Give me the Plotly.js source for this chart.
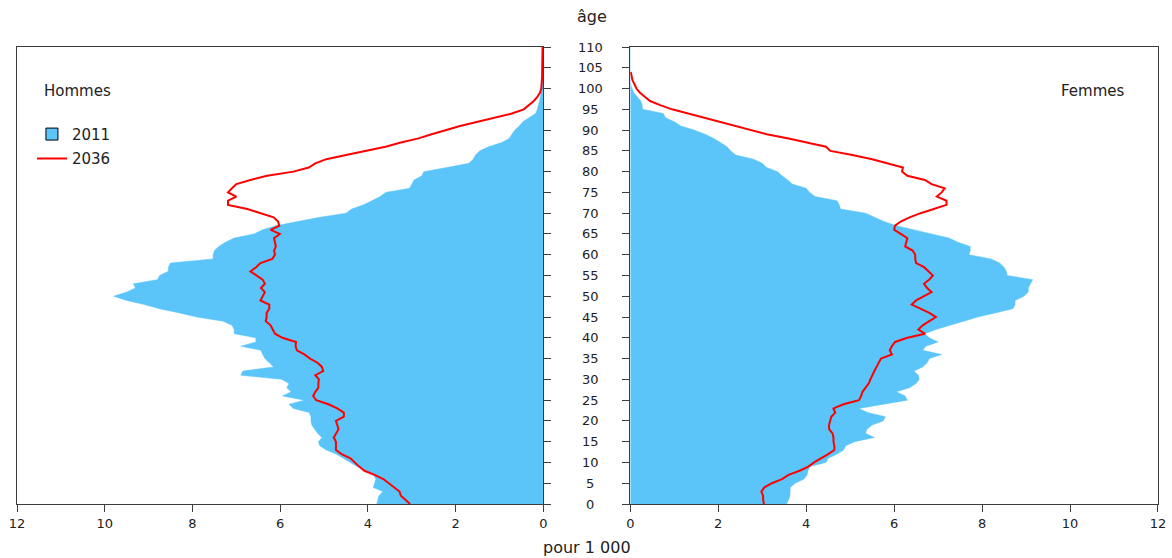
<!DOCTYPE html>
<html><head><meta charset="utf-8">
<script src="https://cdn.plot.ly/plotly-3.0.1.min.js"></script>
<style>html,body{margin:0;padding:0;background:#fff}#chart{width:1172px;height:558px}</style>
</head><body><div id="chart"></div>
<script>
// Ages 0..110 (single years)
const ages = [];
for (let a = 0; a <= 110; a++) ages.push(a);

// pour 1 000 — Hommes 2011
const hommes2011 = [3.80,3.78,3.75,3.66,3.88,3.85,3.82,3.87,4.03,4.25,
 4.40,4.55,4.72,4.95,5.10,5.13,5.05,5.15,5.22,5.28,
 5.30,5.30,5.34,5.70,5.80,5.45,5.95,5.75,5.85,5.80,
 5.97,6.90,6.85,6.15,6.25,6.35,6.40,6.44,6.90,6.55,
 6.56,7.05,7.05,7.10,7.30,7.90,8.30,8.75,9.10,9.50,
 9.80,9.50,9.30,9.35,8.80,8.75,8.55,8.55,8.50,7.53,
 7.53,7.50,7.40,7.25,7.05,6.60,6.40,6.10,5.60,5.10,
 4.50,4.37,4.10,3.90,3.72,3.60,3.05,3.00,2.95,2.77,
 2.73,2.20,1.70,1.60,1.55,1.45,1.25,0.95,0.78,0.72,
 0.65,0.55,0.47,0.33,0.18,0.14,0.11,0.09,0.07,0.06,
 0.05,0.03,0.02,0.01,0.01,0,0,0,0,0,0];

// Hommes 2036
const hommes2036 = [3.04,3.15,3.25,3.28,3.40,3.52,3.65,3.85,4.08,4.20,
 4.30,4.40,4.60,4.73,4.73,4.73,4.78,4.72,4.67,4.70,
 4.73,4.55,4.55,4.70,4.90,5.18,5.25,5.20,5.13,5.13,
 5.12,5.20,5.02,5.05,5.15,5.32,5.45,5.62,5.65,5.64,
 5.95,6.12,6.18,6.22,6.33,6.31,6.31,6.25,6.25,6.45,
 6.40,6.35,6.44,6.35,6.40,6.55,6.68,6.55,6.45,6.18,
 6.12,6.14,6.10,6.12,6.14,6.01,6.22,6.02,6.05,6.15,
 6.45,6.75,7.19,7.19,7.00,7.19,7.10,7.00,6.68,6.30,
 5.70,5.35,5.20,4.95,4.50,4.05,3.60,3.25,2.85,2.55,
 2.25,1.90,1.50,1.10,0.72,0.45,0.33,0.22,0.14,0.08,
 0.05,0.04,0.03,0.03,0.03,0.03,0.02,0.02,0.02,0.02,0.02];

// Femmes 2011
const femmes2011 = [3.55,3.60,3.63,3.64,3.64,3.75,3.95,4.02,4.04,4.08,
 4.45,4.50,4.70,4.85,4.90,5.10,5.55,5.35,5.38,5.50,
 5.75,5.80,5.40,5.20,5.80,6.30,6.25,6.05,6.35,6.50,
 6.57,6.55,6.45,6.65,6.75,6.80,7.08,6.65,6.72,7.00,
 6.80,6.70,6.95,7.25,7.60,7.90,8.30,8.70,8.75,8.75,
 8.95,9.05,9.05,9.10,9.15,8.57,8.55,8.50,8.40,8.20,
 7.70,7.73,7.73,7.45,7.25,6.85,6.45,6.05,5.77,5.55,
 5.35,4.78,4.75,4.70,4.20,4.08,4.00,3.68,3.58,3.45,
 3.35,3.10,3.00,2.80,2.40,2.28,2.20,2.05,1.90,1.70,
 1.45,1.15,1.00,0.80,0.75,0.28,0.27,0.24,0.15,0.08,
 0.04,0.01,0,0,0,0,0,0,0,0,0];

// Femmes 2036
const femmes2036 = [3.04,3.02,3.02,2.98,3.05,3.22,3.45,3.60,3.85,4.05,
 4.18,4.35,4.50,4.64,4.64,4.62,4.62,4.60,4.52,4.52,
 4.55,4.57,4.66,4.62,4.85,5.20,5.25,5.28,5.35,5.42,
 5.46,5.50,5.55,5.60,5.65,5.70,5.95,5.90,5.95,6.02,
 6.30,6.70,6.55,6.65,6.80,6.95,6.80,6.60,6.40,6.50,
 6.68,6.85,6.75,6.68,6.80,6.88,6.78,6.68,6.50,6.48,
 6.48,6.42,6.25,6.28,6.30,6.15,6.00,6.02,6.15,6.35,
 6.60,6.90,7.19,7.19,6.97,7.08,7.15,6.85,6.70,6.30,
 6.18,6.20,5.85,5.50,5.05,4.55,4.45,4.05,3.60,3.10,
 2.75,2.40,2.00,1.65,1.30,0.95,0.68,0.45,0.33,0.22,
 0.14,0.09,0.05,0.03,0.01,null,null,null,null,null,null];

const xTicks = [0,2,4,6,8,10,12];
const ageTicks = [0,5,10,15,20,25,30,35,40,45,50,55,60,65,70,75,80,85,90,95,100,105,110];
const seriesNames = ['2011','2036'];
const panelNames = ['Hommes','Femmes'];

const BLUE = '#5bc5f9';
const RED = '#ff0000';
const FRAME = '#3c3c3c';
const FONT = 'DejaVu Sans, Verdana, sans-serif';
const TXT = '#222222';

function areaTrace(vals, xa, ya) {
  return {type:'scatter', mode:'lines', x:vals, y:ages, xaxis:xa, yaxis:ya,
    name:seriesNames[0], showlegend:false, legendgroup:'a', fill:'tozerox', fillcolor:BLUE,
    line:{color:BLUE, width:0.5, shape:'linear'}, hoverinfo:'skip'};
}
function lineTrace(vals, xa, ya, show) {
  return {type:'scatter', mode:'lines', x:vals, y:ages, xaxis:xa, yaxis:ya,
    name:seriesNames[1], showlegend:show, legendgroup:'b',
    line:{color:RED, width:2, shape:'linear'}, hoverinfo:'skip'};
}

const data = [
  // legend key for the 2011 series (draws no mark of its own)
  {type:'bar', orientation:'h', x:[null], y:[null], xaxis:'x', yaxis:'y', name:seriesNames[0],
   showlegend:true, legendgroup:'a', marker:{color:BLUE, line:{color:'#000000', width:1}}, hoverinfo:'skip'},
  areaTrace(hommes2011,'x','y'),
  lineTrace(hommes2036,'x','y',true),
  areaTrace(femmes2011,'x2','y2'),
  lineTrace(femmes2036,'x2','y2',false)
];

const tickFont = {family:FONT, size:13, color:TXT};
function xAxis(domain, range, anchor) {
  return {domain:domain, range:range, anchor:anchor, tickvals:xTicks, ticktext:xTicks.map(String),
    ticks:'outside', ticklen:7, tickcolor:FRAME, tickwidth:1, showline:true, linecolor:FRAME, linewidth:1,
    mirror:true, showgrid:false, zeroline:false, tickfont:tickFont, fixedrange:true};
}
function yAxis(anchor, side) {
  return {range:[0,110], anchor:anchor, side:side, tickvals:ageTicks, ticks:'outside', ticklen:7,
    tickcolor:FRAME, tickwidth:1, showticklabels:false, showline:true, linecolor:FRAME, linewidth:1,
    mirror:true, showgrid:false, zeroline:false, fixedrange:true};
}

const annotations = [
  {text:panelNames[0], xref:'paper', yref:'paper', x:0.0526, y:0.9044, showarrow:false,
   xanchor:'center', yanchor:'middle', font:{family:FONT, size:15, color:TXT}},
  {text:panelNames[1], xref:'paper', yref:'paper', x:0.9426, y:0.9044, showarrow:false,
   xanchor:'center', yanchor:'middle', font:{family:FONT, size:15, color:TXT}},
  {text:'âge', xref:'paper', yref:'paper', x:0.5037, y:1.0678, showarrow:false,
   xanchor:'center', yanchor:'middle', font:{family:FONT, size:16, color:TXT}},
  {text:'pour 1 000', xref:'paper', yref:'paper', x:0.4996, y:-0.0941, showarrow:false,
   xanchor:'center', yanchor:'middle', font:{family:FONT, size:16, color:TXT}}
];
ageTicks.forEach(function(t){
  annotations.push({text:String(t), xref:'paper', yref:'y2', x:0.5022, y:t, showarrow:false,
    xanchor:'center', yanchor:'middle', font:tickFont});
});

const layout = {
  width:1172, height:558,
  margin:{l:17, r:14, t:47, b:54},
  paper_bgcolor:'#ffffff', plot_bgcolor:'#ffffff',
  bargap:0, showlegend:true, hovermode:false,
  legend:{x:0.0131, xanchor:'left', y:0.845, yanchor:'top', bgcolor:'rgba(0,0,0,0)',
    borderwidth:0, font:{family:FONT, size:15, color:TXT}, traceorder:'grouped', tracegroupgap:2,
    itemclick:false, itemdoubleclick:false},
  xaxis: xAxis([0,0.4614],[12,0],'y'),
  xaxis2: xAxis([0.5375,1],[0,12],'y2'),
  yaxis: yAxis('x','right'),
  yaxis2: yAxis('x2','left'),
  annotations: annotations
};

Plotly.newPlot('chart', data, layout, {displayModeBar:false, staticPlot:true});
</script>
</body></html>
